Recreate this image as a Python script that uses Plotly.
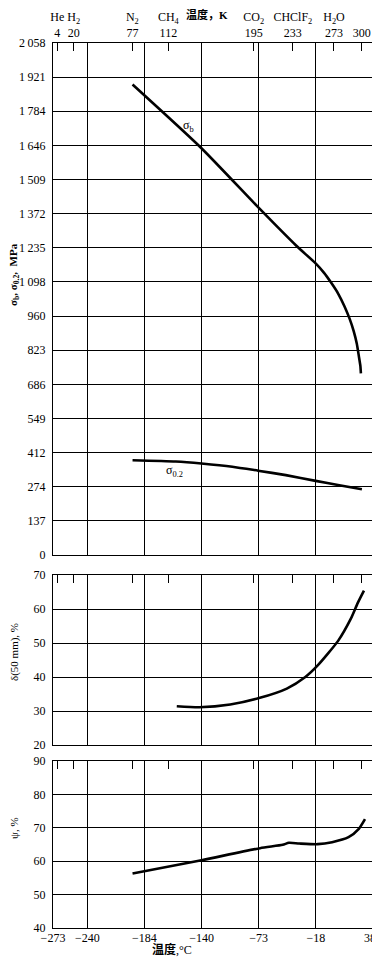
import plotly.graph_objects as go

# ---------------- data ----------------
# temperature axis (linear in °F on the original chart, labelled in °C)
x_tick_pos_F = [-460, -400, -300, -200, -100, 0, 100]
x_tick_labels = ["−273", "−240", "−184", "−140", "−73", "−18", "38\u2002"]

# top kelvin scale with reference substances
k_values = [4, 20, 77, 112, 195, 233, 273, 300]
k_names = ["He", "H<sub>2</sub>", "N<sub>2</sub>", "CH<sub>4</sub>", "CO<sub>2</sub>",
           "CHClF<sub>2</sub>", "H<sub>2</sub>O", ""]

# stress axis ticks (MPa)
stress_ticks = [0, 137, 274, 412, 549, 686, 823, 960, 1098, 1235, 1372, 1509, 1646, 1784, 1921, 2058]
stress_labels = ["0", "137", "274", "412", "549", "686", "823", "960", "1\u2009098", "1\u2009235",
                 "1\u2009372", "1\u2009509", "1\u2009646", "1\u2009784", "1\u2009921", "2\u2009058"]
elong_ticks = [20, 30, 40, 50, 60, 70]
ra_ticks = [40, 50, 60, 70, 80, 90]

# sigma_b (tensile strength)
sb_T = [-196, -129, -73, -37, -18, -10, -3, 4, 10, 15, 19, 22, 24, 25.5, 26]
sb_val = [1891, 1635, 1394, 1244, 1172, 1135, 1095, 1050, 1000, 950, 900, 850, 800, 760, 730]

# sigma_0.2 (yield strength)
sy_T = [-196, -154, -129, -99, -74, -47, -18, 5, 27]
sy_val = [381, 376, 368, 355, 339, 321, 298, 280, 264]

# delta (elongation, 50 mm)
el_T = [-153, -131, -101, -73, -46, -28, -16, 4, 16, 23, 29]
el_val = [31.4, 31.1, 31.9, 33.8, 36.6, 40.0, 43.4, 50.7, 57.0, 61.8, 65.4]

# psi (reduction of area)
ra_T = [-196, -129, -72, -50, -44, -34, -16, -2, 14, 24, 30]
ra_val = [56.3, 60.3, 63.9, 64.9, 65.5, 65.3, 65.1, 65.7, 67.2, 69.7, 72.6]


def c_to_f(c):
    return c * 9 / 5 + 32


def k_to_f(k):
    return (k - 273.15) * 9 / 5 + 32


FONT = "Liberation Serif, Noto Sans CJK SC, serif"
LW = 1.4

fig = go.Figure()
line = dict(color="black", width=2.6, shape="spline", smoothing=0.6)
fig.add_trace(go.Scatter(x=[c_to_f(t) for t in sb_T], y=sb_val, mode="lines", line=line,
                         xaxis="x", yaxis="y", showlegend=False))
fig.add_trace(go.Scatter(x=[c_to_f(t) for t in sy_T], y=sy_val, mode="lines", line=line,
                         xaxis="x", yaxis="y", showlegend=False))
fig.add_trace(go.Scatter(x=[c_to_f(t) for t in el_T], y=el_val, mode="lines", line=line,
                         xaxis="x2", yaxis="y2", showlegend=False))
fig.add_trace(go.Scatter(x=[c_to_f(t) for t in ra_T], y=ra_val, mode="lines", line=line,
                         xaxis="x3", yaxis="y3", showlegend=False))

xrange = [-460, 100]
base_x = dict(range=xrange, tickvals=x_tick_pos_F, ticktext=x_tick_labels, showgrid=True,
              gridcolor="black", gridwidth=LW, showline=True, linecolor="black", linewidth=LW,
              mirror=True, ticks="", zeroline=False, automargin=False, ticklabeloverflow="allow",
              ticklabelstandoff=-2,
              tickfont=dict(family=FONT, size=12, color="black"))
base_y = dict(showgrid=True, gridcolor="black", gridwidth=LW, showline=True, linecolor="black",
              linewidth=LW, mirror=True, ticks="", zeroline=False, automargin=False,
              ticklabeloverflow="allow",
              tickfont=dict(family=FONT, size=12, color="black"), ticklabelstandoff=4)

k_pos = [k_to_f(k) for k in k_values]
k_text = [f"{n}<br>{k}" for n, k in zip(k_names, k_values)]
top_x = dict(range=xrange, tickvals=k_pos, side="top", ticks="inside", ticklen=8, tickwidth=1.2,
             tickcolor="black", showgrid=False, zeroline=False, showline=False, automargin=False,
             ticklabeloverflow="allow", ticklabelstandoff=3,
             tickfont=dict(family=FONT, size=12, color="black"))

d1 = [(928 - 555) / 885, 1.0]
d2 = [(928 - 745) / 885, (928 - 575) / 885]
d3 = [0.0, (928 - 761) / 885]

PW = 320  # plot-area width in px
# page body has an 8px default margin, so the figure is 8px smaller on each axis
fig.update_layout(
    width=372, height=950,
    margin=dict(l=45, r=7, t=35, b=30),
    paper_bgcolor="white", plot_bgcolor="white",
    xaxis=dict(base_x, anchor="y", showticklabels=False),
    xaxis2=dict(base_x, anchor="y2", showticklabels=False),
    xaxis3=dict(base_x, anchor="y3", showticklabels=True),
    xaxis4=dict(top_x, overlaying="x", anchor="y", ticktext=k_text, showticklabels=True),
    xaxis5=dict(top_x, overlaying="x2", anchor="y2", ticktext=k_text, showticklabels=False),
    xaxis6=dict(top_x, overlaying="x3", anchor="y3", ticktext=k_text, showticklabels=False),
    yaxis=dict(base_y, domain=d1, range=[0, 2058], tickvals=stress_ticks, ticktext=stress_labels),
    yaxis2=dict(base_y, domain=d2, range=[20, 70], tickvals=elong_ticks),
    yaxis3=dict(base_y, domain=d3, range=[40, 90], tickvals=ra_ticks),
)

# dummy invisible traces so the top axes are drawn
for xa, ya in [("x4", "y"), ("x5", "y2"), ("x6", "y3")]:
    fig.add_trace(go.Scatter(x=[-460], y=[None], xaxis=xa, yaxis=ya, mode="markers",
                             showlegend=False, hoverinfo="skip"))

ann_font = dict(family=FONT, size=12, color="black")
tfont = dict(family=FONT, size=11, color="black")
C = dict(xanchor="center", yanchor="middle", showarrow=False)
anns = [
    dict(C, text="σ<sub>b</sub>", x=-223, y=1726, xref="x", yref="y", font=ann_font),
    dict(C, text="σ<sub>0.2</sub>", x=-248, y=339, xref="x", yref="y", font=ann_font),
    dict(C, text="<b>σ<sub>b</sub>, σ<sub>0.2</sub>,  MPa</b>", x=(14 - 53) / PW, y=(928 - 275) / 885,
         xref="paper", yref="paper", textangle=-90, font=tfont),
    dict(C, text="δ(50 mm), %", x=(14 - 53) / PW, y=(928 - 652) / 885,
         xref="paper", yref="paper", textangle=-90, font=tfont),
    dict(C, text="ψ, %", x=(14 - 53) / PW, y=(928 - 828) / 885,
         xref="paper", yref="paper", textangle=-90, font=tfont),
    dict(C, text="<b>温度，K</b>", x=(207 - 53) / PW, y=(928 - 15) / 885, xref="paper", yref="paper",
         font=dict(family=FONT, size=11, color="black")),
    dict(C, text="<b>温度</b>,°C", x=(172 - 53) / PW, y=(928 - 950) / 885, xref="paper", yref="paper",
         font=dict(family=FONT, size=12, color="black")),
]
fig.update_layout(annotations=anns)

fig.write_html("out.html")
